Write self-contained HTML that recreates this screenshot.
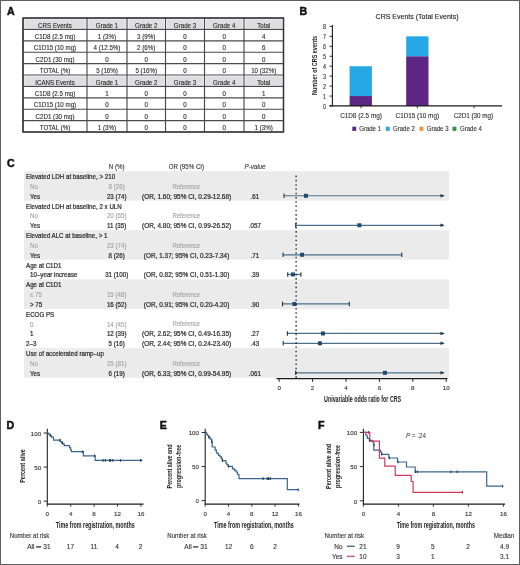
<!DOCTYPE html>
<html><head><meta charset="utf-8"><style>
html,body{margin:0;padding:0;background:#fff;}
svg{display:block;font-family:"Liberation Sans", sans-serif;will-change:transform;}
</style></head><body>
<svg width="520" height="565" viewBox="0 0 520 565" font-family='"Liberation Sans", sans-serif'>
<rect x="0.50" y="0.50" width="519.00" height="564.00" fill="#fff" stroke="#5f5f5f" stroke-width="1"/>
<text x="7.00" y="14.80" font-size="10.6" text-anchor="start" fill="#111" font-weight="bold" stroke="#111" stroke-width="0.5">A</text>
<rect x="24.30" y="19.30" width="61.40" height="8.80" fill="#dedee1"/>
<rect x="88.30" y="19.30" width="37.40" height="8.80" fill="#dedee1"/>
<rect x="128.30" y="19.30" width="35.90" height="8.80" fill="#dedee1"/>
<rect x="166.80" y="19.30" width="36.40" height="8.80" fill="#dedee1"/>
<rect x="205.80" y="19.30" width="36.90" height="8.80" fill="#dedee1"/>
<rect x="245.30" y="19.30" width="36.90" height="8.80" fill="#dedee1"/>
<rect x="24.30" y="76.30" width="61.40" height="8.80" fill="#dedee1"/>
<rect x="88.30" y="76.30" width="37.40" height="8.80" fill="#dedee1"/>
<rect x="128.30" y="76.30" width="35.90" height="8.80" fill="#dedee1"/>
<rect x="166.80" y="76.30" width="36.40" height="8.80" fill="#dedee1"/>
<rect x="205.80" y="76.30" width="36.90" height="8.80" fill="#dedee1"/>
<rect x="245.30" y="76.30" width="36.90" height="8.80" fill="#dedee1"/>
<text transform="translate(55.00,27.50) scale(0.886,1)" font-size="7.0" text-anchor="middle" fill="#2a2a2a" stroke="#2a2a2a" stroke-width="0.12">CRS Events</text>
<text transform="translate(107.00,27.50) scale(0.886,1)" font-size="7.0" text-anchor="middle" fill="#2a2a2a" stroke="#2a2a2a" stroke-width="0.12">Grade 1</text>
<text transform="translate(146.25,27.50) scale(0.886,1)" font-size="7.0" text-anchor="middle" fill="#2a2a2a" stroke="#2a2a2a" stroke-width="0.12">Grade 2</text>
<text transform="translate(185.00,27.50) scale(0.886,1)" font-size="7.0" text-anchor="middle" fill="#2a2a2a" stroke="#2a2a2a" stroke-width="0.12">Grade 3</text>
<text transform="translate(224.25,27.50) scale(0.886,1)" font-size="7.0" text-anchor="middle" fill="#2a2a2a" stroke="#2a2a2a" stroke-width="0.12">Grade 4</text>
<text transform="translate(263.75,27.50) scale(0.886,1)" font-size="7.0" text-anchor="middle" fill="#2a2a2a" stroke="#2a2a2a" stroke-width="0.12">Total</text>
<text transform="translate(55.00,38.90) scale(0.886,1)" font-size="7.0" text-anchor="middle" fill="#2a2a2a" stroke="#2a2a2a" stroke-width="0.12">C1D8 (2.5 mg)</text>
<text transform="translate(107.00,38.90) scale(0.886,1)" font-size="7.0" text-anchor="middle" fill="#2a2a2a" stroke="#2a2a2a" stroke-width="0.12">1 (3%)</text>
<text transform="translate(146.25,38.90) scale(0.886,1)" font-size="7.0" text-anchor="middle" fill="#2a2a2a" stroke="#2a2a2a" stroke-width="0.12">3 (9%)</text>
<text transform="translate(185.00,38.90) scale(0.886,1)" font-size="7.0" text-anchor="middle" fill="#2a2a2a" stroke="#2a2a2a" stroke-width="0.12">0</text>
<text transform="translate(224.25,38.90) scale(0.886,1)" font-size="7.0" text-anchor="middle" fill="#2a2a2a" stroke="#2a2a2a" stroke-width="0.12">0</text>
<text transform="translate(263.75,38.90) scale(0.886,1)" font-size="7.0" text-anchor="middle" fill="#2a2a2a" stroke="#2a2a2a" stroke-width="0.12">4</text>
<text transform="translate(55.00,50.30) scale(0.886,1)" font-size="7.0" text-anchor="middle" fill="#2a2a2a" stroke="#2a2a2a" stroke-width="0.12">C1D15 (10 mg)</text>
<text transform="translate(107.00,50.30) scale(0.886,1)" font-size="7.0" text-anchor="middle" fill="#2a2a2a" stroke="#2a2a2a" stroke-width="0.12">4 (12.5%)</text>
<text transform="translate(146.25,50.30) scale(0.886,1)" font-size="7.0" text-anchor="middle" fill="#2a2a2a" stroke="#2a2a2a" stroke-width="0.12">2 (6%)</text>
<text transform="translate(185.00,50.30) scale(0.886,1)" font-size="7.0" text-anchor="middle" fill="#2a2a2a" stroke="#2a2a2a" stroke-width="0.12">0</text>
<text transform="translate(224.25,50.30) scale(0.886,1)" font-size="7.0" text-anchor="middle" fill="#2a2a2a" stroke="#2a2a2a" stroke-width="0.12">0</text>
<text transform="translate(263.75,50.30) scale(0.886,1)" font-size="7.0" text-anchor="middle" fill="#2a2a2a" stroke="#2a2a2a" stroke-width="0.12">6</text>
<text transform="translate(55.00,61.70) scale(0.886,1)" font-size="7.0" text-anchor="middle" fill="#2a2a2a" stroke="#2a2a2a" stroke-width="0.12">C2D1 (30 mg)</text>
<text transform="translate(107.00,61.70) scale(0.886,1)" font-size="7.0" text-anchor="middle" fill="#2a2a2a" stroke="#2a2a2a" stroke-width="0.12">0</text>
<text transform="translate(146.25,61.70) scale(0.886,1)" font-size="7.0" text-anchor="middle" fill="#2a2a2a" stroke="#2a2a2a" stroke-width="0.12">0</text>
<text transform="translate(185.00,61.70) scale(0.886,1)" font-size="7.0" text-anchor="middle" fill="#2a2a2a" stroke="#2a2a2a" stroke-width="0.12">0</text>
<text transform="translate(224.25,61.70) scale(0.886,1)" font-size="7.0" text-anchor="middle" fill="#2a2a2a" stroke="#2a2a2a" stroke-width="0.12">0</text>
<text transform="translate(263.75,61.70) scale(0.886,1)" font-size="7.0" text-anchor="middle" fill="#2a2a2a" stroke="#2a2a2a" stroke-width="0.12">0</text>
<text transform="translate(55.00,73.10) scale(0.886,1)" font-size="7.0" text-anchor="middle" fill="#2a2a2a" stroke="#2a2a2a" stroke-width="0.12">TOTAL (%)</text>
<text transform="translate(107.00,73.10) scale(0.886,1)" font-size="7.0" text-anchor="middle" fill="#2a2a2a" stroke="#2a2a2a" stroke-width="0.12">5 (16%)</text>
<text transform="translate(146.25,73.10) scale(0.886,1)" font-size="7.0" text-anchor="middle" fill="#2a2a2a" stroke="#2a2a2a" stroke-width="0.12">5 (16%)</text>
<text transform="translate(185.00,73.10) scale(0.886,1)" font-size="7.0" text-anchor="middle" fill="#2a2a2a" stroke="#2a2a2a" stroke-width="0.12">0</text>
<text transform="translate(224.25,73.10) scale(0.886,1)" font-size="7.0" text-anchor="middle" fill="#2a2a2a" stroke="#2a2a2a" stroke-width="0.12">0</text>
<text transform="translate(263.75,73.10) scale(0.886,1)" font-size="7.0" text-anchor="middle" fill="#2a2a2a" stroke="#2a2a2a" stroke-width="0.12">10 (32%)</text>
<text transform="translate(55.00,84.50) scale(0.886,1)" font-size="7.0" text-anchor="middle" fill="#2a2a2a" stroke="#2a2a2a" stroke-width="0.12">ICANS Events</text>
<text transform="translate(107.00,84.50) scale(0.886,1)" font-size="7.0" text-anchor="middle" fill="#2a2a2a" stroke="#2a2a2a" stroke-width="0.12">Grade 1</text>
<text transform="translate(146.25,84.50) scale(0.886,1)" font-size="7.0" text-anchor="middle" fill="#2a2a2a" stroke="#2a2a2a" stroke-width="0.12">Grade 2</text>
<text transform="translate(185.00,84.50) scale(0.886,1)" font-size="7.0" text-anchor="middle" fill="#2a2a2a" stroke="#2a2a2a" stroke-width="0.12">Grade 3</text>
<text transform="translate(224.25,84.50) scale(0.886,1)" font-size="7.0" text-anchor="middle" fill="#2a2a2a" stroke="#2a2a2a" stroke-width="0.12">Grade 4</text>
<text transform="translate(263.75,84.50) scale(0.886,1)" font-size="7.0" text-anchor="middle" fill="#2a2a2a" stroke="#2a2a2a" stroke-width="0.12">Total</text>
<text transform="translate(55.00,95.90) scale(0.886,1)" font-size="7.0" text-anchor="middle" fill="#2a2a2a" stroke="#2a2a2a" stroke-width="0.12">C1D8 (2.5 mg)</text>
<text transform="translate(107.00,95.90) scale(0.886,1)" font-size="7.0" text-anchor="middle" fill="#2a2a2a" stroke="#2a2a2a" stroke-width="0.12">1</text>
<text transform="translate(146.25,95.90) scale(0.886,1)" font-size="7.0" text-anchor="middle" fill="#2a2a2a" stroke="#2a2a2a" stroke-width="0.12">0</text>
<text transform="translate(185.00,95.90) scale(0.886,1)" font-size="7.0" text-anchor="middle" fill="#2a2a2a" stroke="#2a2a2a" stroke-width="0.12">0</text>
<text transform="translate(224.25,95.90) scale(0.886,1)" font-size="7.0" text-anchor="middle" fill="#2a2a2a" stroke="#2a2a2a" stroke-width="0.12">0</text>
<text transform="translate(263.75,95.90) scale(0.886,1)" font-size="7.0" text-anchor="middle" fill="#2a2a2a" stroke="#2a2a2a" stroke-width="0.12">1</text>
<text transform="translate(55.00,107.30) scale(0.886,1)" font-size="7.0" text-anchor="middle" fill="#2a2a2a" stroke="#2a2a2a" stroke-width="0.12">C1D15 (10 mg)</text>
<text transform="translate(107.00,107.30) scale(0.886,1)" font-size="7.0" text-anchor="middle" fill="#2a2a2a" stroke="#2a2a2a" stroke-width="0.12">0</text>
<text transform="translate(146.25,107.30) scale(0.886,1)" font-size="7.0" text-anchor="middle" fill="#2a2a2a" stroke="#2a2a2a" stroke-width="0.12">0</text>
<text transform="translate(185.00,107.30) scale(0.886,1)" font-size="7.0" text-anchor="middle" fill="#2a2a2a" stroke="#2a2a2a" stroke-width="0.12">0</text>
<text transform="translate(224.25,107.30) scale(0.886,1)" font-size="7.0" text-anchor="middle" fill="#2a2a2a" stroke="#2a2a2a" stroke-width="0.12">0</text>
<text transform="translate(263.75,107.30) scale(0.886,1)" font-size="7.0" text-anchor="middle" fill="#2a2a2a" stroke="#2a2a2a" stroke-width="0.12">0</text>
<text transform="translate(55.00,118.70) scale(0.886,1)" font-size="7.0" text-anchor="middle" fill="#2a2a2a" stroke="#2a2a2a" stroke-width="0.12">C2D1 (30 mg)</text>
<text transform="translate(107.00,118.70) scale(0.886,1)" font-size="7.0" text-anchor="middle" fill="#2a2a2a" stroke="#2a2a2a" stroke-width="0.12">0</text>
<text transform="translate(146.25,118.70) scale(0.886,1)" font-size="7.0" text-anchor="middle" fill="#2a2a2a" stroke="#2a2a2a" stroke-width="0.12">0</text>
<text transform="translate(185.00,118.70) scale(0.886,1)" font-size="7.0" text-anchor="middle" fill="#2a2a2a" stroke="#2a2a2a" stroke-width="0.12">0</text>
<text transform="translate(224.25,118.70) scale(0.886,1)" font-size="7.0" text-anchor="middle" fill="#2a2a2a" stroke="#2a2a2a" stroke-width="0.12">0</text>
<text transform="translate(263.75,118.70) scale(0.886,1)" font-size="7.0" text-anchor="middle" fill="#2a2a2a" stroke="#2a2a2a" stroke-width="0.12">0</text>
<text transform="translate(55.00,130.10) scale(0.886,1)" font-size="7.0" text-anchor="middle" fill="#2a2a2a" stroke="#2a2a2a" stroke-width="0.12">TOTAL (%)</text>
<text transform="translate(107.00,130.10) scale(0.886,1)" font-size="7.0" text-anchor="middle" fill="#2a2a2a" stroke="#2a2a2a" stroke-width="0.12">1 (3%)</text>
<text transform="translate(146.25,130.10) scale(0.886,1)" font-size="7.0" text-anchor="middle" fill="#2a2a2a" stroke="#2a2a2a" stroke-width="0.12">0</text>
<text transform="translate(185.00,130.10) scale(0.886,1)" font-size="7.0" text-anchor="middle" fill="#2a2a2a" stroke="#2a2a2a" stroke-width="0.12">0</text>
<text transform="translate(224.25,130.10) scale(0.886,1)" font-size="7.0" text-anchor="middle" fill="#2a2a2a" stroke="#2a2a2a" stroke-width="0.12">0</text>
<text transform="translate(263.75,130.10) scale(0.886,1)" font-size="7.0" text-anchor="middle" fill="#2a2a2a" stroke="#2a2a2a" stroke-width="0.12">1 (3%)</text>
<line x1="23.00" y1="18.00" x2="283.50" y2="18.00" stroke="#4a4a4a" stroke-width="1.15"/>
<line x1="23.00" y1="29.40" x2="283.50" y2="29.40" stroke="#4a4a4a" stroke-width="1.15"/>
<line x1="23.00" y1="40.80" x2="283.50" y2="40.80" stroke="#4a4a4a" stroke-width="1.15"/>
<line x1="23.00" y1="52.20" x2="283.50" y2="52.20" stroke="#4a4a4a" stroke-width="1.15"/>
<line x1="23.00" y1="63.60" x2="283.50" y2="63.60" stroke="#4a4a4a" stroke-width="1.15"/>
<line x1="23.00" y1="75.00" x2="283.50" y2="75.00" stroke="#4a4a4a" stroke-width="1.15"/>
<line x1="23.00" y1="86.40" x2="283.50" y2="86.40" stroke="#4a4a4a" stroke-width="1.15"/>
<line x1="23.00" y1="97.80" x2="283.50" y2="97.80" stroke="#4a4a4a" stroke-width="1.15"/>
<line x1="23.00" y1="109.20" x2="283.50" y2="109.20" stroke="#4a4a4a" stroke-width="1.15"/>
<line x1="23.00" y1="120.60" x2="283.50" y2="120.60" stroke="#4a4a4a" stroke-width="1.15"/>
<line x1="23.00" y1="132.00" x2="283.50" y2="132.00" stroke="#4a4a4a" stroke-width="1.15"/>
<line x1="23.00" y1="18.00" x2="23.00" y2="132.00" stroke="#4a4a4a" stroke-width="1.15"/>
<line x1="87.00" y1="18.00" x2="87.00" y2="132.00" stroke="#4a4a4a" stroke-width="1.15"/>
<line x1="127.00" y1="18.00" x2="127.00" y2="132.00" stroke="#4a4a4a" stroke-width="1.15"/>
<line x1="165.50" y1="18.00" x2="165.50" y2="132.00" stroke="#4a4a4a" stroke-width="1.15"/>
<line x1="204.50" y1="18.00" x2="204.50" y2="132.00" stroke="#4a4a4a" stroke-width="1.15"/>
<line x1="244.00" y1="18.00" x2="244.00" y2="132.00" stroke="#4a4a4a" stroke-width="1.15"/>
<line x1="283.50" y1="18.00" x2="283.50" y2="132.00" stroke="#4a4a4a" stroke-width="1.15"/>
<rect x="23" y="18" width="260.5" height="114.0" fill="none" stroke="#333" stroke-width="1.4"/>
<text x="299.40" y="15.10" font-size="10.6" text-anchor="start" fill="#111" font-weight="bold" stroke="#111" stroke-width="0.5">B</text>
<text x="417.10" y="19.40" font-size="7.2" text-anchor="middle" fill="#222" stroke="#222" stroke-width="0.12" textLength="83.0" lengthAdjust="spacingAndGlyphs">CRS Events (Total Events)</text>
<line x1="332.40" y1="25.00" x2="332.40" y2="106.30" stroke="#1a1a1a" stroke-width="1.1"/>
<line x1="329.50" y1="106.00" x2="332.40" y2="106.00" stroke="#222" stroke-width="0.9"/>
<text transform="translate(326.00,108.90) scale(0.820,1)" font-size="6.6" text-anchor="end" fill="#333" stroke="#333" stroke-width="0.12">0</text>
<line x1="329.50" y1="96.05" x2="332.40" y2="96.05" stroke="#222" stroke-width="0.9"/>
<text transform="translate(326.00,98.95) scale(0.820,1)" font-size="6.6" text-anchor="end" fill="#333" stroke="#333" stroke-width="0.12">1</text>
<line x1="329.50" y1="86.10" x2="332.40" y2="86.10" stroke="#222" stroke-width="0.9"/>
<text transform="translate(326.00,89.00) scale(0.820,1)" font-size="6.6" text-anchor="end" fill="#333" stroke="#333" stroke-width="0.12">2</text>
<line x1="329.50" y1="76.15" x2="332.40" y2="76.15" stroke="#222" stroke-width="0.9"/>
<text transform="translate(326.00,79.05) scale(0.820,1)" font-size="6.6" text-anchor="end" fill="#333" stroke="#333" stroke-width="0.12">3</text>
<line x1="329.50" y1="66.20" x2="332.40" y2="66.20" stroke="#222" stroke-width="0.9"/>
<text transform="translate(326.00,69.10) scale(0.820,1)" font-size="6.6" text-anchor="end" fill="#333" stroke="#333" stroke-width="0.12">4</text>
<line x1="329.50" y1="56.25" x2="332.40" y2="56.25" stroke="#222" stroke-width="0.9"/>
<text transform="translate(326.00,59.15) scale(0.820,1)" font-size="6.6" text-anchor="end" fill="#333" stroke="#333" stroke-width="0.12">5</text>
<line x1="329.50" y1="46.30" x2="332.40" y2="46.30" stroke="#222" stroke-width="0.9"/>
<text transform="translate(326.00,49.20) scale(0.820,1)" font-size="6.6" text-anchor="end" fill="#333" stroke="#333" stroke-width="0.12">6</text>
<line x1="329.50" y1="36.35" x2="332.40" y2="36.35" stroke="#222" stroke-width="0.9"/>
<text transform="translate(326.00,39.25) scale(0.820,1)" font-size="6.6" text-anchor="end" fill="#333" stroke="#333" stroke-width="0.12">7</text>
<line x1="329.50" y1="26.40" x2="332.40" y2="26.40" stroke="#222" stroke-width="0.9"/>
<text transform="translate(326.00,29.30) scale(0.820,1)" font-size="6.6" text-anchor="end" fill="#333" stroke="#333" stroke-width="0.12">8</text>
<text transform="translate(317.3,65.4) rotate(-90)" x="0" y="0" font-size="7.2" text-anchor="middle" fill="#222" font-weight="bold" textLength="59" lengthAdjust="spacingAndGlyphs">Number of CRS events</text>
<rect x="349.60" y="96.05" width="22.30" height="9.95" fill="#5c2682"/>
<rect x="349.60" y="66.20" width="22.30" height="29.85" fill="#25a8e3"/>
<rect x="406.20" y="56.25" width="22.30" height="49.75" fill="#5c2682"/>
<rect x="406.20" y="36.35" width="22.30" height="19.90" fill="#25a8e3"/>
<line x1="329.50" y1="105.80" x2="502.00" y2="105.80" stroke="#1a1a1a" stroke-width="1.2"/>
<line x1="361.00" y1="106.00" x2="361.00" y2="108.30" stroke="#222" stroke-width="0.9"/>
<line x1="417.30" y1="106.00" x2="417.30" y2="108.30" stroke="#222" stroke-width="0.9"/>
<line x1="474.00" y1="106.00" x2="474.00" y2="108.30" stroke="#222" stroke-width="0.9"/>
<text x="361.00" y="118.00" font-size="6.3" text-anchor="middle" fill="#333" stroke="#333" stroke-width="0.12" textLength="41.7" lengthAdjust="spacingAndGlyphs">C1D8 (2.5 mg)</text>
<text x="417.30" y="118.00" font-size="6.3" text-anchor="middle" fill="#333" stroke="#333" stroke-width="0.12" textLength="43.5" lengthAdjust="spacingAndGlyphs">C1D15 (10 mg)</text>
<text x="473.40" y="118.00" font-size="6.3" text-anchor="middle" fill="#333" stroke="#333" stroke-width="0.12" textLength="39.3" lengthAdjust="spacingAndGlyphs">C2D1 (30 mg)</text>
<rect x="352.30" y="126.70" width="3.90" height="4.20" fill="#5c2682"/>
<text x="359.20" y="131.10" font-size="7.0" text-anchor="start" fill="#333" stroke="#333" stroke-width="0.12" textLength="21.8" lengthAdjust="spacingAndGlyphs">Grade 1</text>
<rect x="385.80" y="126.70" width="3.90" height="4.20" fill="#25a8e3"/>
<text x="393.00" y="131.10" font-size="7.0" text-anchor="start" fill="#333" stroke="#333" stroke-width="0.12" textLength="21.8" lengthAdjust="spacingAndGlyphs">Grade 2</text>
<rect x="419.50" y="126.70" width="3.90" height="4.20" fill="#ec9a38"/>
<text x="426.70" y="131.10" font-size="7.0" text-anchor="start" fill="#333" stroke="#333" stroke-width="0.12" textLength="21.8" lengthAdjust="spacingAndGlyphs">Grade 3</text>
<rect x="452.50" y="126.70" width="3.90" height="4.20" fill="#3a8f4b"/>
<text x="460.00" y="131.10" font-size="7.0" text-anchor="start" fill="#333" stroke="#333" stroke-width="0.12" textLength="21.8" lengthAdjust="spacingAndGlyphs">Grade 4</text>
<text x="6.90" y="166.80" font-size="10.6" text-anchor="start" fill="#111" font-weight="bold" stroke="#111" stroke-width="0.5">C</text>
<rect x="24.00" y="171.18" width="425.00" height="29.51" fill="#ebebeb"/>
<rect x="24.00" y="230.19" width="425.00" height="29.51" fill="#ebebeb"/>
<rect x="24.00" y="279.37" width="425.00" height="29.51" fill="#ebebeb"/>
<rect x="24.00" y="348.21" width="425.00" height="29.51" fill="#ebebeb"/>
<text transform="translate(116.70,168.80) scale(0.886,1)" font-size="7.0" text-anchor="middle" fill="#333" stroke="#333" stroke-width="0.12">N (%)</text>
<text transform="translate(186.40,168.80) scale(0.886,1)" font-size="7.0" text-anchor="middle" fill="#333" stroke="#333" stroke-width="0.12">OR (95% CI)</text>
<text transform="translate(255.0,168.5) scale(0.886,1)" font-size="7.0" text-anchor="middle" fill="#333" font-style="italic" stroke="#333" stroke-width="0.12">P-value</text>
<text transform="translate(26.00,179.10) scale(0.886,1)" font-size="7.0" text-anchor="start" fill="#2a2a2a" stroke="#2a2a2a" stroke-width="0.22">Elevated LDH at baseline, &gt; 210</text>
<text transform="translate(30.00,188.94) scale(0.886,1)" font-size="7.0" text-anchor="start" fill="#a2a2a2" stroke="#a2a2a2" stroke-width="0.12">No</text>
<text transform="translate(116.70,188.94) scale(0.886,1)" font-size="7.0" text-anchor="middle" fill="#a2a2a2" stroke="#a2a2a2" stroke-width="0.12">8 (26)</text>
<text transform="translate(186.30,188.74) scale(0.900,1)" font-size="6.7" text-anchor="middle" fill="#a2a2a2" stroke="#a2a2a2" stroke-width="0.12">Reference</text>
<text transform="translate(30.00,198.77) scale(0.886,1)" font-size="7.0" text-anchor="start" fill="#2a2a2a" stroke="#2a2a2a" stroke-width="0.22">Yes</text>
<text transform="translate(116.70,198.77) scale(0.886,1)" font-size="7.0" text-anchor="middle" fill="#2a2a2a" stroke="#2a2a2a" stroke-width="0.22">23 (74)</text>
<text transform="translate(186.60,198.77) scale(0.920,1)" font-size="7.0" text-anchor="middle" fill="#2a2a2a" stroke="#2a2a2a" stroke-width="0.22">(OR, 1.60; 95% CI, 0.29-12.68)</text>
<text transform="translate(254.80,198.77) scale(0.886,1)" font-size="7.0" text-anchor="middle" fill="#2a2a2a" stroke="#2a2a2a" stroke-width="0.22">.61</text>
<text transform="translate(26.00,208.60) scale(0.886,1)" font-size="7.0" text-anchor="start" fill="#2a2a2a" stroke="#2a2a2a" stroke-width="0.22">Elevated LDH at baseline, 2 x ULN</text>
<text transform="translate(30.00,218.44) scale(0.886,1)" font-size="7.0" text-anchor="start" fill="#a2a2a2" stroke="#a2a2a2" stroke-width="0.12">No</text>
<text transform="translate(116.70,218.44) scale(0.886,1)" font-size="7.0" text-anchor="middle" fill="#a2a2a2" stroke="#a2a2a2" stroke-width="0.12">20 (65)</text>
<text transform="translate(186.30,218.24) scale(0.900,1)" font-size="6.7" text-anchor="middle" fill="#a2a2a2" stroke="#a2a2a2" stroke-width="0.12">Reference</text>
<text transform="translate(30.00,228.28) scale(0.886,1)" font-size="7.0" text-anchor="start" fill="#2a2a2a" stroke="#2a2a2a" stroke-width="0.22">Yes</text>
<text transform="translate(116.70,228.28) scale(0.886,1)" font-size="7.0" text-anchor="middle" fill="#2a2a2a" stroke="#2a2a2a" stroke-width="0.22">11 (35)</text>
<text transform="translate(186.60,228.28) scale(0.920,1)" font-size="7.0" text-anchor="middle" fill="#2a2a2a" stroke="#2a2a2a" stroke-width="0.22">(OR, 4.80; 95% CI, 0.99-26.52)</text>
<text transform="translate(254.80,228.28) scale(0.886,1)" font-size="7.0" text-anchor="middle" fill="#2a2a2a" stroke="#2a2a2a" stroke-width="0.22">.057</text>
<text transform="translate(26.00,238.11) scale(0.886,1)" font-size="7.0" text-anchor="start" fill="#2a2a2a" stroke="#2a2a2a" stroke-width="0.22">Elevated ALC at baseline, &gt; 1</text>
<text transform="translate(30.00,247.94) scale(0.886,1)" font-size="7.0" text-anchor="start" fill="#a2a2a2" stroke="#a2a2a2" stroke-width="0.12">No</text>
<text transform="translate(116.70,247.94) scale(0.886,1)" font-size="7.0" text-anchor="middle" fill="#a2a2a2" stroke="#a2a2a2" stroke-width="0.12">23 (74)</text>
<text transform="translate(186.30,247.75) scale(0.900,1)" font-size="6.7" text-anchor="middle" fill="#a2a2a2" stroke="#a2a2a2" stroke-width="0.12">Reference</text>
<text transform="translate(30.00,257.78) scale(0.886,1)" font-size="7.0" text-anchor="start" fill="#2a2a2a" stroke="#2a2a2a" stroke-width="0.22">Yes</text>
<text transform="translate(116.70,257.78) scale(0.886,1)" font-size="7.0" text-anchor="middle" fill="#2a2a2a" stroke="#2a2a2a" stroke-width="0.22">8 (26)</text>
<text transform="translate(186.60,257.78) scale(0.920,1)" font-size="7.0" text-anchor="middle" fill="#2a2a2a" stroke="#2a2a2a" stroke-width="0.22">(OR, 1.37; 95% CI, 0.23-7.34)</text>
<text transform="translate(254.80,257.78) scale(0.886,1)" font-size="7.0" text-anchor="middle" fill="#2a2a2a" stroke="#2a2a2a" stroke-width="0.22">.71</text>
<text transform="translate(26.00,267.62) scale(0.886,1)" font-size="7.0" text-anchor="start" fill="#2a2a2a" stroke="#2a2a2a" stroke-width="0.22">Age at C1D1</text>
<text transform="translate(30.00,277.45) scale(0.886,1)" font-size="7.0" text-anchor="start" fill="#2a2a2a" stroke="#2a2a2a" stroke-width="0.22">10–year increase</text>
<text transform="translate(116.70,277.45) scale(0.886,1)" font-size="7.0" text-anchor="middle" fill="#2a2a2a" stroke="#2a2a2a" stroke-width="0.22">31 (100)</text>
<text transform="translate(186.60,277.45) scale(0.920,1)" font-size="7.0" text-anchor="middle" fill="#2a2a2a" stroke="#2a2a2a" stroke-width="0.22">(OR, 0.82; 95% CI, 0.51-1.30)</text>
<text transform="translate(254.80,277.45) scale(0.886,1)" font-size="7.0" text-anchor="middle" fill="#2a2a2a" stroke="#2a2a2a" stroke-width="0.22">.39</text>
<text transform="translate(26.00,287.28) scale(0.886,1)" font-size="7.0" text-anchor="start" fill="#2a2a2a" stroke="#2a2a2a" stroke-width="0.22">Age at C1D1</text>
<text transform="translate(30.00,297.12) scale(0.886,1)" font-size="7.0" text-anchor="start" fill="#a2a2a2" stroke="#a2a2a2" stroke-width="0.12">≤ 75</text>
<text transform="translate(116.70,297.12) scale(0.886,1)" font-size="7.0" text-anchor="middle" fill="#a2a2a2" stroke="#a2a2a2" stroke-width="0.12">15 (48)</text>
<text transform="translate(186.30,296.92) scale(0.900,1)" font-size="6.7" text-anchor="middle" fill="#a2a2a2" stroke="#a2a2a2" stroke-width="0.12">Reference</text>
<text transform="translate(30.00,306.96) scale(0.886,1)" font-size="7.0" text-anchor="start" fill="#2a2a2a" stroke="#2a2a2a" stroke-width="0.22">&gt; 75</text>
<text transform="translate(116.70,306.96) scale(0.886,1)" font-size="7.0" text-anchor="middle" fill="#2a2a2a" stroke="#2a2a2a" stroke-width="0.22">16 (52)</text>
<text transform="translate(186.60,306.96) scale(0.920,1)" font-size="7.0" text-anchor="middle" fill="#2a2a2a" stroke="#2a2a2a" stroke-width="0.22">(OR, 0.91; 95% CI, 0.20-4.20)</text>
<text transform="translate(254.80,306.96) scale(0.886,1)" font-size="7.0" text-anchor="middle" fill="#2a2a2a" stroke="#2a2a2a" stroke-width="0.22">.90</text>
<text transform="translate(26.00,316.79) scale(0.886,1)" font-size="7.0" text-anchor="start" fill="#2a2a2a" stroke="#2a2a2a" stroke-width="0.22">ECOG PS</text>
<text transform="translate(30.00,326.62) scale(0.886,1)" font-size="7.0" text-anchor="start" fill="#a2a2a2" stroke="#a2a2a2" stroke-width="0.12">0</text>
<text transform="translate(116.70,326.62) scale(0.886,1)" font-size="7.0" text-anchor="middle" fill="#a2a2a2" stroke="#a2a2a2" stroke-width="0.12">14 (45)</text>
<text transform="translate(186.30,326.43) scale(0.900,1)" font-size="6.7" text-anchor="middle" fill="#a2a2a2" stroke="#a2a2a2" stroke-width="0.12">Reference</text>
<text transform="translate(30.00,336.46) scale(0.886,1)" font-size="7.0" text-anchor="start" fill="#2a2a2a" stroke="#2a2a2a" stroke-width="0.22">1</text>
<text transform="translate(116.70,336.46) scale(0.886,1)" font-size="7.0" text-anchor="middle" fill="#2a2a2a" stroke="#2a2a2a" stroke-width="0.22">12 (39)</text>
<text transform="translate(186.60,336.46) scale(0.920,1)" font-size="7.0" text-anchor="middle" fill="#2a2a2a" stroke="#2a2a2a" stroke-width="0.22">(OR, 2.62; 95% CI, 0.49-16.35)</text>
<text transform="translate(254.80,336.46) scale(0.886,1)" font-size="7.0" text-anchor="middle" fill="#2a2a2a" stroke="#2a2a2a" stroke-width="0.22">.27</text>
<text transform="translate(26.00,346.30) scale(0.886,1)" font-size="7.0" text-anchor="start" fill="#2a2a2a" stroke="#2a2a2a" stroke-width="0.22">2–3</text>
<text transform="translate(116.70,346.30) scale(0.886,1)" font-size="7.0" text-anchor="middle" fill="#2a2a2a" stroke="#2a2a2a" stroke-width="0.22">5 (16)</text>
<text transform="translate(186.60,346.30) scale(0.920,1)" font-size="7.0" text-anchor="middle" fill="#2a2a2a" stroke="#2a2a2a" stroke-width="0.22">(OR, 2.44; 95% CI, 0.24-23.40)</text>
<text transform="translate(254.80,346.30) scale(0.886,1)" font-size="7.0" text-anchor="middle" fill="#2a2a2a" stroke="#2a2a2a" stroke-width="0.22">.43</text>
<text transform="translate(26.00,356.13) scale(0.886,1)" font-size="7.0" text-anchor="start" fill="#2a2a2a" stroke="#2a2a2a" stroke-width="0.22">Use of accelerated ramp–up</text>
<text transform="translate(30.00,365.97) scale(0.886,1)" font-size="7.0" text-anchor="start" fill="#a2a2a2" stroke="#a2a2a2" stroke-width="0.12">No</text>
<text transform="translate(116.70,365.97) scale(0.886,1)" font-size="7.0" text-anchor="middle" fill="#a2a2a2" stroke="#a2a2a2" stroke-width="0.12">25 (81)</text>
<text transform="translate(186.30,365.77) scale(0.900,1)" font-size="6.7" text-anchor="middle" fill="#a2a2a2" stroke="#a2a2a2" stroke-width="0.12">Reference</text>
<text transform="translate(30.00,375.80) scale(0.886,1)" font-size="7.0" text-anchor="start" fill="#2a2a2a" stroke="#2a2a2a" stroke-width="0.22">Yes</text>
<text transform="translate(116.70,375.80) scale(0.886,1)" font-size="7.0" text-anchor="middle" fill="#2a2a2a" stroke="#2a2a2a" stroke-width="0.22">6 (19)</text>
<text transform="translate(186.60,375.80) scale(0.920,1)" font-size="7.0" text-anchor="middle" fill="#2a2a2a" stroke="#2a2a2a" stroke-width="0.22">(OR, 6.33; 95% CI, 0.99-54.95)</text>
<text transform="translate(254.80,375.80) scale(0.886,1)" font-size="7.0" text-anchor="middle" fill="#2a2a2a" stroke="#2a2a2a" stroke-width="0.22">.061</text>
<line x1="284.04" y1="195.77" x2="441.00" y2="195.77" stroke="#4d7089" stroke-width="1.2"/>
<line x1="284.04" y1="193.47" x2="284.04" y2="198.07" stroke="#223344" stroke-width="1.1"/>
<path d="M440.5,193.97 L444.8,195.77 L440.5,197.57 Z" stroke="none" stroke-width="0" fill="#1f3448"/>
<rect x="303.92" y="193.77" width="4.00" height="4.00" fill="#1e4a72"/>
<line x1="295.73" y1="225.28" x2="441.00" y2="225.28" stroke="#4d7089" stroke-width="1.2"/>
<line x1="295.73" y1="222.97" x2="295.73" y2="227.58" stroke="#223344" stroke-width="1.1"/>
<path d="M440.5,223.47 L444.8,225.28 L440.5,227.08 Z" stroke="none" stroke-width="0" fill="#1f3448"/>
<rect x="357.36" y="223.28" width="4.00" height="4.00" fill="#1e4a72"/>
<line x1="283.04" y1="254.78" x2="401.78" y2="254.78" stroke="#4d7089" stroke-width="1.2"/>
<line x1="283.04" y1="252.48" x2="283.04" y2="257.08" stroke="#223344" stroke-width="1.1"/>
<line x1="401.78" y1="252.48" x2="401.78" y2="257.08" stroke="#223344" stroke-width="1.1"/>
<rect x="300.08" y="252.78" width="4.00" height="4.00" fill="#1e4a72"/>
<line x1="287.72" y1="274.45" x2="300.91" y2="274.45" stroke="#4d7089" stroke-width="1.2"/>
<line x1="287.72" y1="272.15" x2="287.72" y2="276.75" stroke="#223344" stroke-width="1.1"/>
<line x1="300.91" y1="272.15" x2="300.91" y2="276.75" stroke="#223344" stroke-width="1.1"/>
<rect x="290.89" y="272.45" width="4.00" height="4.00" fill="#1e4a72"/>
<line x1="282.54" y1="303.96" x2="349.34" y2="303.96" stroke="#4d7089" stroke-width="1.2"/>
<line x1="282.54" y1="301.66" x2="282.54" y2="306.26" stroke="#223344" stroke-width="1.1"/>
<line x1="349.34" y1="301.66" x2="349.34" y2="306.26" stroke="#223344" stroke-width="1.1"/>
<rect x="292.40" y="301.96" width="4.00" height="4.00" fill="#1e4a72"/>
<line x1="287.38" y1="333.46" x2="441.00" y2="333.46" stroke="#4d7089" stroke-width="1.2"/>
<line x1="287.38" y1="331.16" x2="287.38" y2="335.76" stroke="#223344" stroke-width="1.1"/>
<path d="M440.5,331.66 L444.8,333.46 L440.5,335.26 Z" stroke="none" stroke-width="0" fill="#1f3448"/>
<rect x="320.95" y="331.46" width="4.00" height="4.00" fill="#1e4a72"/>
<line x1="283.21" y1="343.30" x2="441.00" y2="343.30" stroke="#4d7089" stroke-width="1.2"/>
<line x1="283.21" y1="341.00" x2="283.21" y2="345.60" stroke="#223344" stroke-width="1.1"/>
<path d="M440.5,341.50 L444.8,343.30 L440.5,345.10 Z" stroke="none" stroke-width="0" fill="#1f3448"/>
<rect x="317.95" y="341.30" width="4.00" height="4.00" fill="#1e4a72"/>
<line x1="295.73" y1="372.80" x2="441.00" y2="372.80" stroke="#4d7089" stroke-width="1.2"/>
<line x1="295.73" y1="370.50" x2="295.73" y2="375.10" stroke="#223344" stroke-width="1.1"/>
<path d="M440.5,371.00 L444.8,372.80 L440.5,374.60 Z" stroke="none" stroke-width="0" fill="#1f3448"/>
<rect x="382.91" y="370.80" width="4.00" height="4.00" fill="#1e4a72"/>
<line x1="296.10" y1="175.60" x2="296.10" y2="378.00" stroke="#111" stroke-width="1.15" stroke-dasharray="1.6,2.67"/>
<line x1="276.40" y1="378.60" x2="447.50" y2="378.60" stroke="#1a1a1a" stroke-width="1.1"/>
<line x1="279.20" y1="378.60" x2="279.20" y2="381.80" stroke="#222" stroke-width="1.0"/>
<text x="279.20" y="390.40" font-size="6.2" text-anchor="middle" fill="#333" stroke="#333" stroke-width="0.12">0</text>
<line x1="312.60" y1="378.60" x2="312.60" y2="381.80" stroke="#222" stroke-width="1.0"/>
<text x="312.60" y="390.40" font-size="6.2" text-anchor="middle" fill="#333" stroke="#333" stroke-width="0.12">2</text>
<line x1="346.00" y1="378.60" x2="346.00" y2="381.80" stroke="#222" stroke-width="1.0"/>
<text x="346.00" y="390.40" font-size="6.2" text-anchor="middle" fill="#333" stroke="#333" stroke-width="0.12">4</text>
<line x1="379.40" y1="378.60" x2="379.40" y2="381.80" stroke="#222" stroke-width="1.0"/>
<text x="379.40" y="390.40" font-size="6.2" text-anchor="middle" fill="#333" stroke="#333" stroke-width="0.12">6</text>
<line x1="412.80" y1="378.60" x2="412.80" y2="381.80" stroke="#222" stroke-width="1.0"/>
<text x="412.80" y="390.40" font-size="6.2" text-anchor="middle" fill="#333" stroke="#333" stroke-width="0.12">8</text>
<line x1="446.20" y1="378.60" x2="446.20" y2="381.80" stroke="#222" stroke-width="1.0"/>
<text x="446.20" y="390.40" font-size="6.2" text-anchor="middle" fill="#333" stroke="#333" stroke-width="0.12">10</text>
<text x="362.60" y="402.20" font-size="8.8" text-anchor="middle" fill="#222" textLength="77.0" lengthAdjust="spacingAndGlyphs" font-weight="bold">Univariable odds ratio for CRS</text>
<text x="6.60" y="429.40" font-size="10.6" text-anchor="start" fill="#111" font-weight="bold" stroke="#111" stroke-width="0.5">D</text>
<line x1="47.30" y1="428.80" x2="47.30" y2="504.20" stroke="#222" stroke-width="1.1"/>
<line x1="43.70" y1="433.00" x2="47.30" y2="433.00" stroke="#222" stroke-width="0.95"/>
<text x="41.10" y="435.70" font-size="6.2" text-anchor="end" fill="#333" stroke="#333" stroke-width="0.12">100</text>
<line x1="43.70" y1="467.10" x2="47.30" y2="467.10" stroke="#222" stroke-width="0.95"/>
<text x="41.10" y="469.80" font-size="6.2" text-anchor="end" fill="#333" stroke="#333" stroke-width="0.12">50</text>
<line x1="43.70" y1="501.20" x2="47.30" y2="501.20" stroke="#222" stroke-width="0.95"/>
<text x="41.10" y="503.90" font-size="6.2" text-anchor="end" fill="#333" stroke="#333" stroke-width="0.12">0</text>
<line x1="46.80" y1="504.20" x2="143.50" y2="504.20" stroke="#1a1a1a" stroke-width="1.3"/>
<line x1="47.30" y1="504.20" x2="47.30" y2="506.70" stroke="#222" stroke-width="0.9"/>
<text x="47.30" y="515.80" font-size="6.2" text-anchor="middle" fill="#333" stroke="#333" stroke-width="0.12">0</text>
<line x1="70.70" y1="504.20" x2="70.70" y2="506.70" stroke="#222" stroke-width="0.9"/>
<text x="70.70" y="515.80" font-size="6.2" text-anchor="middle" fill="#333" stroke="#333" stroke-width="0.12">4</text>
<line x1="94.10" y1="504.20" x2="94.10" y2="506.70" stroke="#222" stroke-width="0.9"/>
<text x="94.10" y="515.80" font-size="6.2" text-anchor="middle" fill="#333" stroke="#333" stroke-width="0.12">8</text>
<line x1="117.50" y1="504.20" x2="117.50" y2="506.70" stroke="#222" stroke-width="0.9"/>
<text x="117.50" y="515.80" font-size="6.2" text-anchor="middle" fill="#333" stroke="#333" stroke-width="0.12">12</text>
<line x1="140.90" y1="504.20" x2="140.90" y2="506.70" stroke="#222" stroke-width="0.9"/>
<text x="140.90" y="515.80" font-size="6.2" text-anchor="middle" fill="#333" stroke="#333" stroke-width="0.12">16</text>
<text transform="translate(24.5,466.0) rotate(-90)" font-size="7.9" text-anchor="middle" fill="#222" font-weight="bold" textLength="33.5" lengthAdjust="spacingAndGlyphs">Percent alive</text>
<text x="95.30" y="527.60" font-size="8.6" text-anchor="middle" fill="#222" textLength="79.0" lengthAdjust="spacingAndGlyphs" font-weight="bold">Time from registration, months</text>
<path d="M47.5,433.1 H48.6 V434.2 H50.2 V435.5 H51.5 V437.2 H53.5 V440.1 H60.2 V441.5 H61.5 V442.9 H62.8 V444.2 H64.3 V445.6 H69.5 V447.7 H70.5 V449.5 H71.3 V451.7 H83.4 V455.8 H95.2 V460.4 H142.4" stroke="#3b6590" stroke-width="1.2" fill="none"/>
<line x1="50.20" y1="434.20" x2="50.20" y2="436.80" stroke="#1f3a55" stroke-width="1.1"/>
<line x1="60.00" y1="438.80" x2="60.00" y2="441.40" stroke="#1f3a55" stroke-width="1.1"/>
<line x1="62.50" y1="441.60" x2="62.50" y2="444.20" stroke="#1f3a55" stroke-width="1.1"/>
<line x1="82.40" y1="450.40" x2="82.40" y2="453.00" stroke="#1f3a55" stroke-width="1.1"/>
<line x1="94.60" y1="454.50" x2="94.60" y2="457.10" stroke="#1f3a55" stroke-width="1.1"/>
<line x1="103.10" y1="459.10" x2="103.10" y2="461.70" stroke="#1f3a55" stroke-width="1.1"/>
<line x1="105.30" y1="459.10" x2="105.30" y2="461.70" stroke="#1f3a55" stroke-width="1.1"/>
<line x1="109.60" y1="459.10" x2="109.60" y2="461.70" stroke="#1f3a55" stroke-width="1.1"/>
<line x1="110.60" y1="459.10" x2="110.60" y2="461.70" stroke="#1f3a55" stroke-width="1.1"/>
<line x1="112.80" y1="459.10" x2="112.80" y2="461.70" stroke="#1f3a55" stroke-width="1.1"/>
<line x1="120.50" y1="459.10" x2="120.50" y2="461.70" stroke="#1f3a55" stroke-width="1.1"/>
<line x1="140.70" y1="459.10" x2="140.70" y2="461.70" stroke="#1f3a55" stroke-width="1.1"/>
<text x="9.80" y="538.20" font-size="6.7" text-anchor="start" fill="#333" stroke="#333" stroke-width="0.12" textLength="39.4" lengthAdjust="spacingAndGlyphs">Number at risk</text>
<text x="27.20" y="549.00" font-size="6.6" text-anchor="start" fill="#333" stroke="#333" stroke-width="0.12">All</text>
<line x1="36.00" y1="546.90" x2="41.20" y2="546.90" stroke="#34536c" stroke-width="1.5"/>
<text x="50.60" y="549.00" font-size="6.6" text-anchor="end" fill="#333" stroke="#333" stroke-width="0.12">31</text>
<text x="70.40" y="549.00" font-size="6.5" text-anchor="middle" fill="#333" stroke="#333" stroke-width="0.12">17</text>
<text x="93.90" y="549.00" font-size="6.5" text-anchor="middle" fill="#333" stroke="#333" stroke-width="0.12">11</text>
<text x="117.00" y="549.00" font-size="6.5" text-anchor="middle" fill="#333" stroke="#333" stroke-width="0.12">4</text>
<text x="140.50" y="549.00" font-size="6.5" text-anchor="middle" fill="#333" stroke="#333" stroke-width="0.12">2</text>
<text x="159.80" y="429.40" font-size="10.6" text-anchor="start" fill="#111" font-weight="bold" stroke="#111" stroke-width="0.5">E</text>
<line x1="205.20" y1="428.80" x2="205.20" y2="504.20" stroke="#222" stroke-width="1.1"/>
<line x1="201.60" y1="432.50" x2="205.20" y2="432.50" stroke="#222" stroke-width="0.95"/>
<text x="199.00" y="435.20" font-size="6.2" text-anchor="end" fill="#333" stroke="#333" stroke-width="0.12">100</text>
<line x1="201.60" y1="466.55" x2="205.20" y2="466.55" stroke="#222" stroke-width="0.95"/>
<text x="199.00" y="469.25" font-size="6.2" text-anchor="end" fill="#333" stroke="#333" stroke-width="0.12">50</text>
<line x1="201.60" y1="500.60" x2="205.20" y2="500.60" stroke="#222" stroke-width="0.95"/>
<text x="199.00" y="503.30" font-size="6.2" text-anchor="end" fill="#333" stroke="#333" stroke-width="0.12">0</text>
<line x1="204.70" y1="504.20" x2="299.50" y2="504.20" stroke="#1a1a1a" stroke-width="1.3"/>
<line x1="205.20" y1="504.20" x2="205.20" y2="506.70" stroke="#222" stroke-width="0.9"/>
<text x="205.20" y="515.80" font-size="6.2" text-anchor="middle" fill="#333" stroke="#333" stroke-width="0.12">0</text>
<line x1="228.50" y1="504.20" x2="228.50" y2="506.70" stroke="#222" stroke-width="0.9"/>
<text x="228.50" y="515.80" font-size="6.2" text-anchor="middle" fill="#333" stroke="#333" stroke-width="0.12">4</text>
<line x1="251.80" y1="504.20" x2="251.80" y2="506.70" stroke="#222" stroke-width="0.9"/>
<text x="251.80" y="515.80" font-size="6.2" text-anchor="middle" fill="#333" stroke="#333" stroke-width="0.12">8</text>
<line x1="275.10" y1="504.20" x2="275.10" y2="506.70" stroke="#222" stroke-width="0.9"/>
<text x="275.10" y="515.80" font-size="6.2" text-anchor="middle" fill="#333" stroke="#333" stroke-width="0.12">12</text>
<line x1="298.40" y1="504.20" x2="298.40" y2="506.70" stroke="#222" stroke-width="0.9"/>
<text x="298.40" y="515.80" font-size="6.2" text-anchor="middle" fill="#333" stroke="#333" stroke-width="0.12">16</text>
<text transform="translate(172.0,466.4) rotate(-90)" font-size="7.9" text-anchor="middle" fill="#222" font-weight="bold" textLength="44" lengthAdjust="spacingAndGlyphs">Percent alive and</text>
<text transform="translate(181.2,466.4) rotate(-90)" font-size="7.9" text-anchor="middle" fill="#222" font-weight="bold" textLength="43.3" lengthAdjust="spacingAndGlyphs">progression-free</text>
<text x="253.90" y="527.60" font-size="8.6" text-anchor="middle" fill="#222" textLength="79.7" lengthAdjust="spacingAndGlyphs" font-weight="bold">Time from registration, months</text>
<path d="M205.2,432.4 H206.5 V434 H207.5 V435.5 H208.8 V437.3 H210.2 V439.2 H211.7 V441.6 H212.2 V447 H215.1 V449.9 H216.3 V452 H217 V453.5 H218.5 V455.3 H220 V456.8 H221.4 V458.7 H222.4 V460.6 H225.8 V463 H226.8 V464.5 H228 V466.3 H232.5 V468.9 H234.5 V470.3 H236 V472 H237.5 V474.5 H239 V478.7 H287.3 V489.7 H298.2" stroke="#3b6590" stroke-width="1.2" fill="none"/>
<line x1="208.80" y1="436.00" x2="208.80" y2="438.60" stroke="#1f3a55" stroke-width="1.1"/>
<line x1="211.70" y1="440.30" x2="211.70" y2="442.90" stroke="#1f3a55" stroke-width="1.1"/>
<line x1="222.40" y1="459.30" x2="222.40" y2="461.90" stroke="#1f3a55" stroke-width="1.1"/>
<line x1="228.50" y1="465.00" x2="228.50" y2="467.60" stroke="#1f3a55" stroke-width="1.1"/>
<line x1="263.10" y1="477.30" x2="263.10" y2="479.90" stroke="#1f3a55" stroke-width="1.1"/>
<line x1="267.30" y1="477.30" x2="267.30" y2="479.90" stroke="#1f3a55" stroke-width="1.1"/>
<line x1="268.60" y1="477.30" x2="268.60" y2="479.90" stroke="#1f3a55" stroke-width="1.1"/>
<line x1="270.30" y1="477.30" x2="270.30" y2="479.90" stroke="#1f3a55" stroke-width="1.1"/>
<line x1="298.20" y1="488.40" x2="298.20" y2="491.00" stroke="#1f3a55" stroke-width="1.1"/>
<text x="167.30" y="538.20" font-size="6.7" text-anchor="start" fill="#333" stroke="#333" stroke-width="0.12" textLength="39.4" lengthAdjust="spacingAndGlyphs">Number at risk</text>
<text x="184.30" y="549.00" font-size="6.6" text-anchor="start" fill="#333" stroke="#333" stroke-width="0.12">All</text>
<line x1="193.10" y1="546.90" x2="198.30" y2="546.90" stroke="#34536c" stroke-width="1.5"/>
<text x="207.70" y="549.00" font-size="6.6" text-anchor="end" fill="#333" stroke="#333" stroke-width="0.12">31</text>
<text x="228.50" y="549.00" font-size="6.5" text-anchor="middle" fill="#333" stroke="#333" stroke-width="0.12">12</text>
<text x="251.80" y="549.00" font-size="6.5" text-anchor="middle" fill="#333" stroke="#333" stroke-width="0.12">6</text>
<text x="275.00" y="549.00" font-size="6.5" text-anchor="middle" fill="#333" stroke="#333" stroke-width="0.12">2</text>
<text x="317.90" y="429.40" font-size="10.6" text-anchor="start" fill="#111" font-weight="bold" stroke="#111" stroke-width="0.5">F</text>
<line x1="363.40" y1="428.80" x2="363.40" y2="504.20" stroke="#222" stroke-width="1.1"/>
<line x1="359.80" y1="432.40" x2="363.40" y2="432.40" stroke="#222" stroke-width="0.95"/>
<text x="357.20" y="435.10" font-size="6.2" text-anchor="end" fill="#333" stroke="#333" stroke-width="0.12">100</text>
<line x1="359.80" y1="466.60" x2="363.40" y2="466.60" stroke="#222" stroke-width="0.95"/>
<text x="357.20" y="469.30" font-size="6.2" text-anchor="end" fill="#333" stroke="#333" stroke-width="0.12">50</text>
<line x1="359.80" y1="500.80" x2="363.40" y2="500.80" stroke="#222" stroke-width="0.95"/>
<text x="357.20" y="503.50" font-size="6.2" text-anchor="end" fill="#333" stroke="#333" stroke-width="0.12">0</text>
<line x1="362.90" y1="504.20" x2="505.00" y2="504.20" stroke="#1a1a1a" stroke-width="1.3"/>
<line x1="363.40" y1="504.20" x2="363.40" y2="506.70" stroke="#222" stroke-width="0.9"/>
<text x="363.40" y="515.80" font-size="6.2" text-anchor="middle" fill="#333" stroke="#333" stroke-width="0.12">0</text>
<line x1="398.40" y1="504.20" x2="398.40" y2="506.70" stroke="#222" stroke-width="0.9"/>
<text x="398.40" y="515.80" font-size="6.2" text-anchor="middle" fill="#333" stroke="#333" stroke-width="0.12">4</text>
<line x1="433.40" y1="504.20" x2="433.40" y2="506.70" stroke="#222" stroke-width="0.9"/>
<text x="433.40" y="515.80" font-size="6.2" text-anchor="middle" fill="#333" stroke="#333" stroke-width="0.12">8</text>
<line x1="468.40" y1="504.20" x2="468.40" y2="506.70" stroke="#222" stroke-width="0.9"/>
<text x="468.40" y="515.80" font-size="6.2" text-anchor="middle" fill="#333" stroke="#333" stroke-width="0.12">12</text>
<line x1="503.40" y1="504.20" x2="503.40" y2="506.70" stroke="#222" stroke-width="0.9"/>
<text x="503.40" y="515.80" font-size="6.2" text-anchor="middle" fill="#333" stroke="#333" stroke-width="0.12">16</text>
<text transform="translate(330.8,466.4) rotate(-90)" font-size="7.9" text-anchor="middle" fill="#222" font-weight="bold" textLength="45" lengthAdjust="spacingAndGlyphs">Percent alive and</text>
<text transform="translate(339.7,466.4) rotate(-90)" font-size="7.9" text-anchor="middle" fill="#222" font-weight="bold" textLength="43" lengthAdjust="spacingAndGlyphs">progression-free</text>
<text x="435.80" y="527.60" font-size="8.6" text-anchor="middle" fill="#222" textLength="78.2" lengthAdjust="spacingAndGlyphs" font-weight="bold">Time from registration, months</text>
<text x="405.9" y="437.6" font-size="6.3" fill="#333"><tspan font-style="italic">P</tspan> = .24</text>
<path d="M363.6,432.4 H365.8 V435 H367 V436.5 H367.5 V438.4 H369.5 V440.4 H372.7 V441.8 H373.8 V450.2 H380.5 V452 H381.6 V454.3 H388.8 V458 H397.5 V462 H406.5 V467 H415.2 V471.8 H486.7 V486.2 H502.6" stroke="#3b6590" stroke-width="1.2" fill="none"/>
<path d="M363.6,432.4 H369.8 V441.1 H379.4 V458.2 H384.8 V466.1 H395.2 V475.3 H411.2 V481.5 H413.1 V492.3 H462.4" stroke="#cc3a5c" stroke-width="1.2" fill="none"/>
<line x1="369.50" y1="439.10" x2="369.50" y2="441.70" stroke="#1f3a55" stroke-width="1.1"/>
<line x1="374.00" y1="443.70" x2="374.00" y2="446.30" stroke="#1f3a55" stroke-width="1.1"/>
<line x1="381.60" y1="453.00" x2="381.60" y2="455.60" stroke="#1f3a55" stroke-width="1.1"/>
<line x1="389.40" y1="456.70" x2="389.40" y2="459.30" stroke="#1f3a55" stroke-width="1.1"/>
<line x1="398.00" y1="460.70" x2="398.00" y2="463.30" stroke="#1f3a55" stroke-width="1.1"/>
<line x1="415.40" y1="470.50" x2="415.40" y2="473.10" stroke="#1f3a55" stroke-width="1.1"/>
<line x1="417.30" y1="470.50" x2="417.30" y2="473.10" stroke="#1f3a55" stroke-width="1.1"/>
<line x1="450.80" y1="470.50" x2="450.80" y2="473.10" stroke="#1f3a55" stroke-width="1.1"/>
<line x1="457.10" y1="470.50" x2="457.10" y2="473.10" stroke="#1f3a55" stroke-width="1.1"/>
<line x1="502.60" y1="484.90" x2="502.60" y2="487.50" stroke="#1f3a55" stroke-width="1.1"/>
<line x1="368.70" y1="431.10" x2="368.70" y2="433.70" stroke="#b01c3a" stroke-width="1.1"/>
<line x1="462.40" y1="491.00" x2="462.40" y2="493.60" stroke="#b01c3a" stroke-width="1.1"/>
<text x="324.60" y="538.20" font-size="6.7" text-anchor="start" fill="#333" stroke="#333" stroke-width="0.12" textLength="39.4" lengthAdjust="spacingAndGlyphs">Number at risk</text>
<text x="514.30" y="538.20" font-size="6.7" text-anchor="end" fill="#333" stroke="#333" stroke-width="0.12" textLength="20.5" lengthAdjust="spacingAndGlyphs">Median</text>
<text x="342.60" y="548.50" font-size="6.5" text-anchor="end" fill="#333" stroke="#333" stroke-width="0.12">No</text>
<line x1="347.00" y1="546.30" x2="354.70" y2="546.30" stroke="#4f7090" stroke-width="1.5"/>
<text x="366.60" y="548.50" font-size="6.5" text-anchor="end" fill="#333" stroke="#333" stroke-width="0.12">21</text>
<text x="342.60" y="558.60" font-size="6.5" text-anchor="end" fill="#333" stroke="#333" stroke-width="0.12">Yes</text>
<line x1="347.00" y1="556.40" x2="354.70" y2="556.40" stroke="#b8607a" stroke-width="1.5"/>
<text x="366.60" y="558.60" font-size="6.5" text-anchor="end" fill="#333" stroke="#333" stroke-width="0.12">10</text>
<text x="398.00" y="548.60" font-size="6.5" text-anchor="middle" fill="#333" stroke="#333" stroke-width="0.12">9</text>
<text x="432.70" y="548.60" font-size="6.5" text-anchor="middle" fill="#333" stroke="#333" stroke-width="0.12">5</text>
<text x="468.00" y="548.60" font-size="6.5" text-anchor="middle" fill="#333" stroke="#333" stroke-width="0.12">2</text>
<text x="504.60" y="548.60" font-size="6.5" text-anchor="middle" fill="#333" stroke="#333" stroke-width="0.12">4.9</text>
<text x="398.00" y="558.90" font-size="6.5" text-anchor="middle" fill="#333" stroke="#333" stroke-width="0.12">3</text>
<text x="432.70" y="558.90" font-size="6.5" text-anchor="middle" fill="#333" stroke="#333" stroke-width="0.12">1</text>
<text x="504.60" y="558.90" font-size="6.5" text-anchor="middle" fill="#333" stroke="#333" stroke-width="0.12">3.1</text>
</svg>
</body></html>
